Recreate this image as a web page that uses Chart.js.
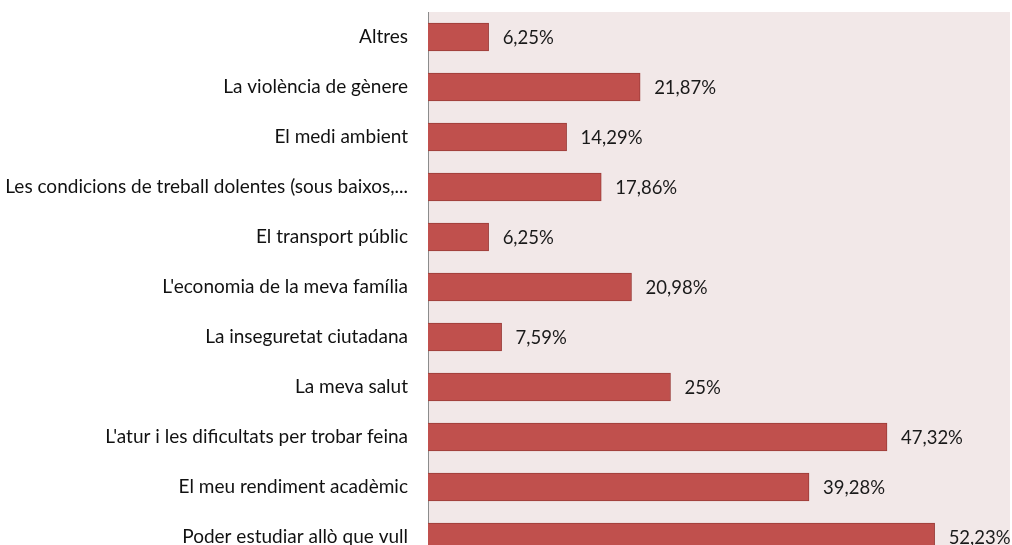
<!DOCTYPE html>
<html>
<head>
<meta charset="utf-8">
<script src="https://cdn.jsdelivr.net/npm/chart.js@4"></script>
<style>
  html, body { margin: 0; padding: 0; background: #fff; overflow: hidden; }
</style>
</head>
<body>
<canvas id="grafica" width="1012" height="562"></canvas>
<script>
var categories = [
  'Altres',
  'La violència de gènere',
  'El medi ambient',
  'Les condicions de treball dolentes (sous baixos,...',
  'El transport públic',
  "L'economia de la meva família",
  'La inseguretat ciutadana',
  'La meva salut',
  "L'atur i les dificultats per trobar feina",
  'El meu rendiment acadèmic',
  'Poder estudiar allò que vull'
];
var percentatges = [6.25, 21.87, 14.29, 17.86, 6.25, 20.98, 7.59, 25, 47.32, 39.28, 52.23];
var FONT = 'Lato, "Open Sans", sans-serif';

// fons de la zona del gràfic
var fons = {
  id: 'fons',
  beforeDraw: function(chart) {
    var a = chart.chartArea, c = chart.ctx;
    c.save();
    c.fillStyle = '#f2e8e8';
    c.fillRect(a.left, a.top, a.right - a.left, a.bottom - a.top);
    c.restore();
  }
};

// etiquetes de valor a la dreta de cada barra
var etiquetes = {
  id: 'etiquetes',
  afterDatasetsDraw: function(chart) {
    var c = chart.ctx;
    var meta = chart.getDatasetMeta(0);
    c.save();
    c.font = '18.5px ' + FONT;
    c.fillStyle = '#1a1a1a';
    c.textBaseline = 'middle';
    meta.data.forEach(function(bar, i) {
      var txt = String(percentatges[i]).replace('.', ',') + '%';
      c.fillText(txt, bar.x + 14, bar.y + 1);
    });
    c.restore();
  }
};

new Chart(document.getElementById('grafica'), {
  type: 'bar',
  data: {
    labels: categories,
    datasets: [{
      data: percentatges,
      backgroundColor: '#c0504d',
      borderColor: '#9b3c39',
      borderWidth: 1,
      borderSkipped: 'left',
      barThickness: 28
    }]
  },
  options: {
    indexAxis: 'y',
    responsive: false,
    animation: false,
    layout: { padding: { top: 12, right: 2, bottom: 0, left: 0 } },
    plugins: { legend: { display: false }, tooltip: { enabled: false } },
    scales: {
      x: {
        min: 0,
        max: 60,
        display: false
      },
      y: {
        grid: { display: false, drawTicks: false },
        border: { display: true, color: '#8c8c8c', width: 1 },
        ticks: {
          color: '#111',
          padding: 20,
          font: { family: FONT, size: 19 }
        },
        afterFit: function(scale) {
          scale.width = 428;
          scale.paddingTop = 0;
          scale.paddingBottom = 0;
        }
      }
    }
  },
  plugins: [fons, etiquetes]
});
</script>
</body>
</html>
